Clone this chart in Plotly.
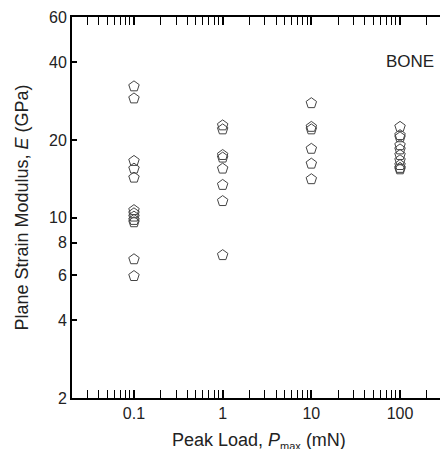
import plotly.graph_objects as go
import math

load_01 = [32.3, 29.0, 16.6, 15.5, 14.3, 10.7, 10.4, 10.1, 9.8, 9.6, 6.9, 5.94]
load_1 = [22.8, 22.0, 17.5, 17.1, 15.5, 13.4, 11.6, 7.16]
load_10 = [27.8, 22.5, 22.0, 18.5, 16.2, 14.1]
load_100 = [22.5, 20.9, 20.5, 19.1, 18.4, 17.5, 16.7, 16.0, 15.6, 15.4]

groups = [(0.1, load_01), (1, load_1), (10, load_10), (100, load_100)]
x_vals = []
y_vals = []
for xv, ys in groups:
    x_vals += [xv] * len(ys)
    y_vals += ys

x_ticks = [0.1, 1, 10, 100]
x_ticktext = ["0.1", "1", "10", "100"]
y_ticks = [2, 4, 6, 8, 10, 20, 40, 60]
y_ticktext = [str(v) for v in y_ticks]

fig = go.Figure()
fig.add_trace(go.Scatter(
    x=x_vals, y=y_vals, mode="markers",
    marker=dict(symbol="pentagon-open", size=11, color="#444444", line=dict(width=1, color="#444444")),
    showlegend=False,
))
fig.add_trace(go.Scatter(x=[None], y=[None], yaxis="y2", showlegend=False))

font = "Liberation Sans, Arial, sans-serif"
fig.update_layout(
    width=440, height=441,
    margin=dict(l=64, r=2, t=9, b=51),
    paper_bgcolor="white", plot_bgcolor="white",
    font=dict(family=font, size=16, color="#222222"),
    xaxis=dict(
        type="log", range=[math.log10(0.02), math.log10(330)], automargin=False,
        tickvals=x_ticks, ticktext=x_ticktext,
        ticks="inside", ticklen=8, tickwidth=2, tickcolor="black",
        showline=True, linewidth=2, linecolor="black", mirror="allticks",
        showgrid=False, zeroline=False,
        minor=dict(ticks="inside", ticklen=4, tickwidth=1.3, tickcolor="black", dtick="D1", showgrid=False),
    ),
    yaxis=dict(
        type="log", range=[math.log10(2), math.log10(60)], automargin=False,
        tickvals=y_ticks, ticktext=y_ticktext,
        ticks="inside", ticklen=5, tickwidth=2, tickcolor="black",
        showline=True, linewidth=2, linecolor="black",
        showgrid=False, zeroline=False,
        title=dict(text="Plane Strain Modulus, <i>E</i> (GPa)", font=dict(size=18), standoff=16),
    ),
    yaxis2=dict(
        type="log", range=[math.log10(2), math.log10(60)], overlaying="y", side="right", automargin=False,
        tickvals=[10], showticklabels=False, ticks="inside", ticklen=5, tickwidth=2, tickcolor="black",
        showline=False, showgrid=False, zeroline=False,
    ),
    annotations=[
        dict(text="BONE", x=0.904, y=0.882, xref="paper", yref="paper",
             xanchor="center", yanchor="middle",
             showarrow=False, font=dict(size=17, family=font, color="#222222")),
        dict(text="Peak Load, <i>P</i><sub><span style='font-size:11px'>max</span></sub> (mN)",
             x=0.5, y=-0.112, xref="paper", yref="paper",
             xanchor="center", yanchor="middle",
             showarrow=False, font=dict(size=18, family=font, color="#222222")),
    ],
)
fig.write_html("out.html")
